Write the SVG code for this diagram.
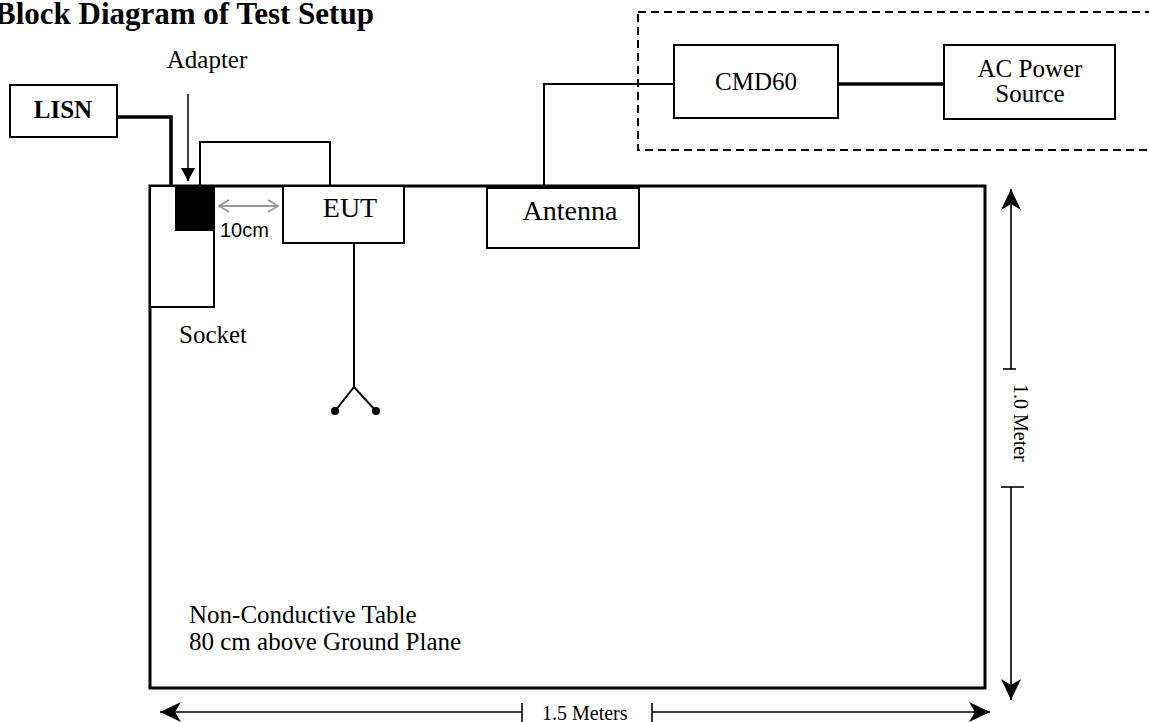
<svg xmlns="http://www.w3.org/2000/svg" width="1149" height="722" viewBox="0 0 1149 722">
<style>
.t{font-family:"Liberation Serif","Times New Roman",serif;fill:#000}
.s{font-family:"Liberation Sans",Arial,sans-serif;fill:#000}
.box{fill:#fff;stroke:#000;stroke-width:2}
.w{fill:none;stroke:#000;stroke-width:2}
.thick{fill:none;stroke:#000;stroke-width:3.5}
.dim{fill:none;stroke:#000;stroke-width:1.6}
</style>
<defs>
<marker id="barb" viewBox="-23 -11 24 22" refX="0" refY="0" markerWidth="24" markerHeight="22" markerUnits="userSpaceOnUse" orient="auto-start-reverse">
<path d="M0,0 L-21,-10 L-15,0 L-21,10 Z" fill="#000"/>
</marker>
<marker id="grey" viewBox="-11 -7 12 14" refX="0" refY="0" markerWidth="12" markerHeight="14" markerUnits="userSpaceOnUse" orient="auto-start-reverse">
<path d="M-10,-6 L0,0 L-10,6" fill="none" stroke="#999" stroke-width="2"/>
</marker>
<marker id="tri" viewBox="-14 -8 15 16" refX="0" refY="0" markerWidth="15" markerHeight="16" markerUnits="userSpaceOnUse" orient="auto">
<path d="M0,0 L-13,-7 L-13,7 Z" fill="#000"/>
</marker>
</defs>
<rect width="1149" height="722" fill="#fff"/>

<g id="title">
<text class="t" x="-5" y="24" font-size="31" font-weight="bold">Block Diagram of Test Setup</text>
</g>

<g id="equipment-enclosure">
<rect x="638" y="12" width="530" height="138" fill="none" stroke="#000" stroke-width="2" stroke-dasharray="8,5"/>
</g>

<g id="table">
<rect x="150" y="186" width="835" height="502" fill="none" stroke="#000" stroke-width="3"/>
<text class="t" x="189" y="623" font-size="25">Non-Conductive Table</text>
<text class="t" x="189" y="650" font-size="25">80 cm above Ground Plane</text>
</g>

<g id="connectors">
<polyline class="thick" points="117,117 171,117 171,186"/>
<polyline class="w" points="200,186 200,142 330,142 330,186"/>
<polyline class="w" points="354,243 354,387 335,411"/>
<line class="w" x1="354" y1="387" x2="376" y2="411"/>
<circle cx="335" cy="411" r="4" fill="#000"/>
<circle cx="376" cy="411" r="4" fill="#000"/>
<polyline class="w" stroke-width="1.6" points="544,186 544,84 674,84"/>
<line class="thick" x1="838" y1="84" x2="944" y2="84"/>
<line x1="188" y1="94" x2="188" y2="181" stroke="#000" stroke-width="1.5" marker-end="url(#tri)"/>
</g>

<g id="lisn">
<rect class="box" x="10" y="85" width="107" height="52"/>
<text class="t" x="63" y="118" font-size="25" font-weight="bold" text-anchor="middle">LISN</text>
</g>

<g id="adapter">
<text class="t" x="207" y="68" font-size="25" text-anchor="middle">Adapter</text>
</g>

<g id="socket">
<rect class="box" x="150" y="186" width="64" height="121"/>
<rect x="175" y="186" width="38" height="45" fill="#000"/>
<text class="t" x="179" y="343" font-size="25">Socket</text>
</g>

<g id="spacing">
<line x1="219" y1="206" x2="278" y2="206" stroke="#999" stroke-width="2" marker-start="url(#grey)" marker-end="url(#grey)"/>
<text class="s" x="220" y="237" font-size="20">10cm</text>
</g>

<g id="eut">
<rect class="box" x="283" y="186" width="121" height="57"/>
<text class="t" x="350" y="217" font-size="28" text-anchor="middle">EUT</text>
</g>

<g id="antenna">
<rect class="box" x="487" y="188" width="152" height="60"/>
<line x1="487" y1="187" x2="639" y2="187" stroke="#000" stroke-width="3"/>
<text class="t" x="570" y="220" font-size="28" text-anchor="middle">Antenna</text>
</g>

<g id="cmd60">
<rect class="box" x="674" y="45" width="164" height="73"/>
<text class="t" x="756" y="90" font-size="25" text-anchor="middle">CMD60</text>
</g>

<g id="ac-power">
<rect class="box" x="944" y="45" width="171" height="74"/>
<text class="t" x="1030" y="77" font-size="25" text-anchor="middle">AC Power</text>
<text class="t" x="1030" y="102" font-size="25" text-anchor="middle">Source</text>
</g>

<g id="dimensions">
<line class="dim" x1="1011" y1="369" x2="1011" y2="189" marker-end="url(#barb)"/>
<line class="dim" x1="1003" y1="369" x2="1016" y2="369"/>
<text class="t" x="384" y="-1014" font-size="20" transform="rotate(90)">1.0 Meter</text>
<line class="dim" x1="1001" y1="487" x2="1024" y2="487"/>
<line class="dim" x1="1011" y1="487" x2="1011" y2="700" marker-end="url(#barb)"/>
<line class="dim" x1="522" y1="712" x2="160" y2="712" marker-end="url(#barb)"/>
<line class="dim" x1="522" y1="703" x2="522" y2="722"/>
<text class="t" x="542" y="720" font-size="20">1.5 Meters</text>
<line class="dim" x1="652" y1="703" x2="652" y2="722"/>
<line class="dim" x1="652" y1="712" x2="990" y2="712" marker-end="url(#barb)"/>
</g>
</svg>
